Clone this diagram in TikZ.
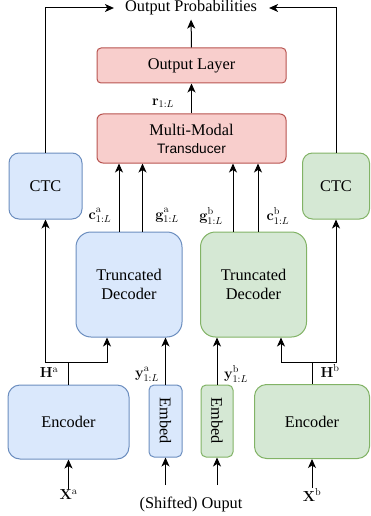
\RequirePackage{fix-cm}
\documentclass[tikz,border=0pt]{standalone}
\usepackage[no-math]{fontspec}
\setmainfont{Liberation Serif}
\newfontfamily\helv{Liberation Sans}
\usetikzlibrary{arrows.meta}
\definecolor{bfill}{HTML}{DAE8FC}\definecolor{bdraw}{HTML}{6C8EBF}
\definecolor{gfill}{HTML}{D5E8D4}\definecolor{gdraw}{HTML}{82B366}
\definecolor{rfill}{HTML}{F8CECC}\definecolor{rdraw}{HTML}{B85450}
\newcommand{\supx}[1]{\raisebox{1.2pt}{$\scriptstyle\mathrm{#1}$}}
\tikzset{
  box/.style={draw, line width=1pt, align=center, inner sep=0pt,
    font=\fontsize{16.3}{19}\selectfont},
  bluebox/.style={box, fill=bfill, draw=bdraw},
  greenbox/.style={box, fill=gfill, draw=gdraw},
  redbox/.style={box, fill=rfill, draw=rdraw},
  txt/.style={inner sep=0pt, font=\fontsize{16.3}{19}\selectfont},
  lbl/.style={inner sep=0.5pt, font=\fontsize{14.5}{16}\selectfont},
  arr/.style={-{Stealth[length=9pt,width=8pt,inset=2.5pt]}, line width=1pt},
  ln/.style={line width=1pt},
}
\begin{document}
\begin{tikzpicture}[x=1pt,y=-1pt]
\useasboundingbox (0,0) rectangle (370,516);
% nodes
\node[txt] (outp) at (191,8) {Output Probabilities};
\node[redbox, rounded corners=4pt, minimum width=189pt, minimum height=35pt] (outl) at (191.5,65.5) {Output Layer};
\node[redbox, rounded corners=6pt, minimum width=189pt, minimum height=49pt] (mmt) at (191.5,138.5)
  {Multi-Modal\\[-1pt]{\helv\fontsize{13.7}{16}\selectfont Transducer}};
\node[bluebox, rounded corners=10pt, minimum width=73pt, minimum height=66pt] (ctcA) at (45.5,186) {CTC};
\node[greenbox, rounded corners=10pt, minimum width=67pt, minimum height=66pt] (ctcB) at (336,186) {CTC};
\node[bluebox, rounded corners=15pt, minimum width=106pt, minimum height=105pt] (decA) at (129,284.5) {Truncated\\Decoder};
\node[greenbox, rounded corners=15pt, minimum width=106pt, minimum height=105pt] (decB) at (253.5,284.5) {Truncated\\Decoder};
\node[bluebox, rounded corners=12pt, minimum width=121pt, minimum height=74pt] (encA) at (68.5,422) {Encoder};
\node[greenbox, rounded corners=12pt, minimum width=115pt, minimum height=74pt] (encB) at (312,421.5) {Encoder};
\node[bluebox, rounded corners=5pt, minimum width=33pt, minimum height=72pt] (embA) at (165.5,421) {\rotatebox{-90}{Embed}};
\node[greenbox, rounded corners=5pt, minimum width=32pt, minimum height=72pt] (embB) at (217,421) {\rotatebox{-90}{Embed}};
% labels
\node[lbl] (lr) at (163,103) {$\mathbf{r}_{1:L}$};
\node[lbl] (lca) at (100,215.5) {$\mathbf{c}^{\supx{a}}_{1:L}$};
\node[lbl] (lga) at (167,215.5) {$\mathbf{g}^{\supx{a}}_{1:L}$};
\node[lbl] (lgb) at (211,215.5) {$\mathbf{g}^{\supx{b}}_{1:L}$};
\node[lbl] (lcb) at (278,215.5) {$\mathbf{c}^{\supx{b}}_{1:L}$};
\node[lbl] (lha) at (49,373) {$\mathbf{H}^{\mathrm{a}}$};
\node[lbl] (lhb) at (330,371) {$\mathbf{H}^{\mathrm{b}}$};
\node[lbl] (lya) at (147,374) {$\mathbf{y}^{\supx{a}}_{1:L}$};
\node[lbl] (lyb) at (236,374) {$\mathbf{y}^{\supx{b}}_{1:L}$};
\node[lbl] (xa) at (68.5,495) {$\mathbf{X}^{\mathrm{a}}$};
\node[lbl] (xb) at (312,495) {$\mathbf{X}^{\mathrm{b}}$};
\node[txt] (sh) at (191,504) {(Shifted) Ouput};
% junctions
\coordinate (ja) at (68.5,362);
\coordinate (jb) at (312,362);
\coordinate (sa) at (165.5,485);
\coordinate (sb) at (217,485);
% connectors
\draw[ln] (encA.north) -- (ja);
\draw[arr] (ja) -| (ctcA.south);
\draw[arr] (ja) -| ([xshift=-22pt]decA.south);
\draw[ln] (encB.north) -- (jb);
\draw[arr] (jb) -| (ctcB.south);
\draw[arr] (jb) -| ([xshift=27.5pt]decB.south);
\draw[arr] (embA.north) -- (embA.north |- decA.south);
\draw[arr] (embB.north) -- (embB.north |- decB.south);
\draw[arr] ([xshift=-10pt]decA.north) -- ([xshift=-10pt]decA.north |- mmt.south);
\draw[arr] ([xshift=13.5pt]decA.north) -- ([xshift=13.5pt]decA.north |- mmt.south);
\draw[arr] ([xshift=-20.5pt]decB.north) -- ([xshift=-20.5pt]decB.north |- mmt.south);
\draw[arr] ([xshift=4.5pt]decB.north) -- ([xshift=4.5pt]decB.north |- mmt.south);
\draw[arr] (mmt.north) -- (outl.south);
\draw[arr, shorten >=4pt] (outl.north) -- (outp.south);
\draw[arr] (ctcA.north) |- ([xshift=-11pt]outp.west);
\draw[arr] (ctcB.north) |- ([xshift=12pt]outp.east);
\draw[arr] (xa.north) -- (encA.south);
\draw[arr] (xb.north) -- (encB.south);
\draw[arr] (sa) -- (embA.south);
\draw[arr] (sb) -- (embB.south);
\end{tikzpicture}
\end{document}
